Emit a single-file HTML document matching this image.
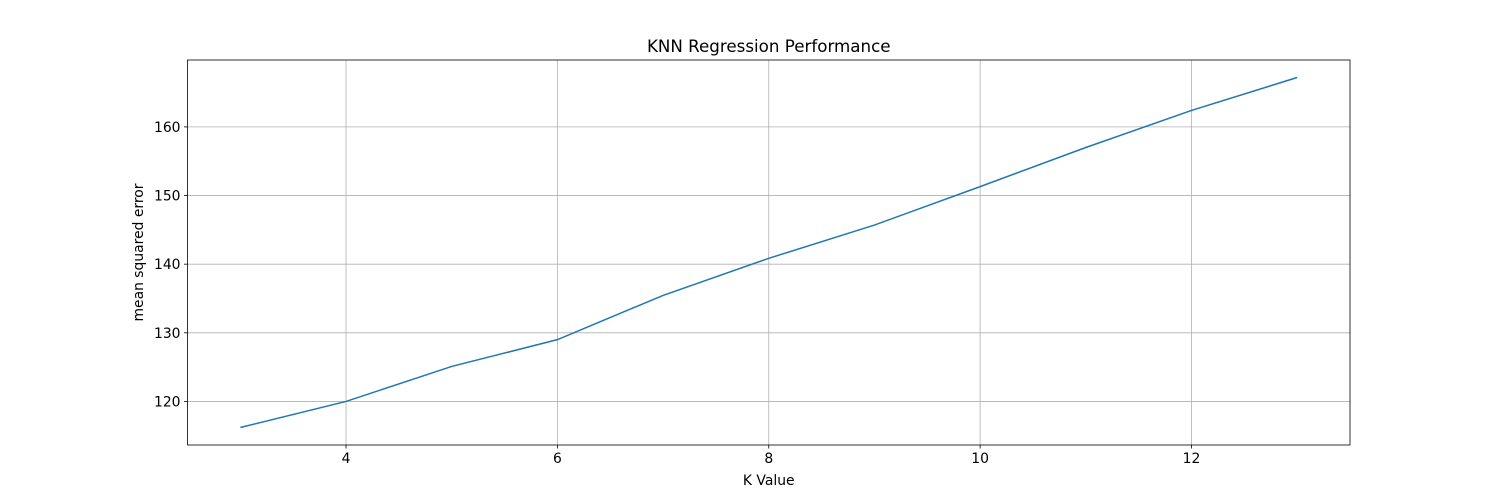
<!DOCTYPE html>
<html><head><meta charset="utf-8"><style>
body{margin:0;background:#fff;}
svg{display:block;font-family:"DejaVu Sans","Liberation Sans",sans-serif;}
</style></head><body>
<svg id="chart" width="1500" height="500"></svg>
<script>
const kValues=[3,4,5,6,7,8,9,10,11,12,13];
const mseValues=[116.2,120.0,125.1,129.0,135.45,140.85,145.7,151.3,157.0,162.4,167.2];
const xTicks=[4,6,8,10,12];
const yTicks=[120,130,140,150,160];
const L=187.5,R=1350,T=60,B=445;
const xMin=2.5,xMax=13.5,yMin=113.65,yMax=169.75;
const sx=v=>L+(v-xMin)/(xMax-xMin)*(R-L);
const sy=v=>B-(v-yMin)/(yMax-yMin)*(B-T);
const svg=document.getElementById('chart');
const NS='http://www.w3.org/2000/svg';
function mk(tag,attrs){const e=document.createElementNS(NS,tag);for(const k in attrs)e.setAttribute(k,attrs[k]);svg.appendChild(e);return e;}
xTicks.forEach(t=>{
  const g=mk('line',{x1:sx(t),x2:sx(t),y1:T,y2:B,stroke:'#b0b0b0','stroke-width':0.8});
  
  
  mk('line',{x1:sx(t),x2:sx(t),y1:B,y2:B+3.5,stroke:'#000','stroke-width':0.8});
  const tx=mk('text',{x:sx(t),y:B+18,'text-anchor':'middle','font-size':13.9});
  tx.textContent=t;
  
  
});
yTicks.forEach(t=>{
  const g=mk('line',{x1:L,x2:R,y1:sy(t),y2:sy(t),stroke:'#b0b0b0','stroke-width':0.8});
  
  
  mk('line',{x1:L-3.5,x2:L,y1:sy(t),y2:sy(t),stroke:'#000','stroke-width':0.8});
  const tx=mk('text',{x:L-7,y:sy(t)+5,'text-anchor':'end','font-size':13.9});
  tx.textContent=t;
  
  
});
const p=mk('polyline',{points:kValues.map((k,i)=>sx(k)+','+sy(mseValues[i])).join(' '),fill:'none',stroke:'#1f77b4','stroke-width':1.5});


const fr=mk('rect',{x:L,y:T,width:R-L,height:B-T,fill:'none',stroke:'#000','stroke-width':0.8});


const ti=mk('text',{x:(L+R)/2,y:52,'text-anchor':'middle','font-size':16.7});
ti.textContent='KNN Regression Performance';


const xl=mk('text',{x:(L+R)/2,y:485,'text-anchor':'middle','font-size':13.9});
xl.textContent='K Value';


const yl=mk('text',{x:143,y:(T+B)/2,'text-anchor':'middle','font-size':13.9,transform:'rotate(-90 143 '+((T+B)/2)+')'});
yl.textContent='mean squared error';


</script>
</body></html>
